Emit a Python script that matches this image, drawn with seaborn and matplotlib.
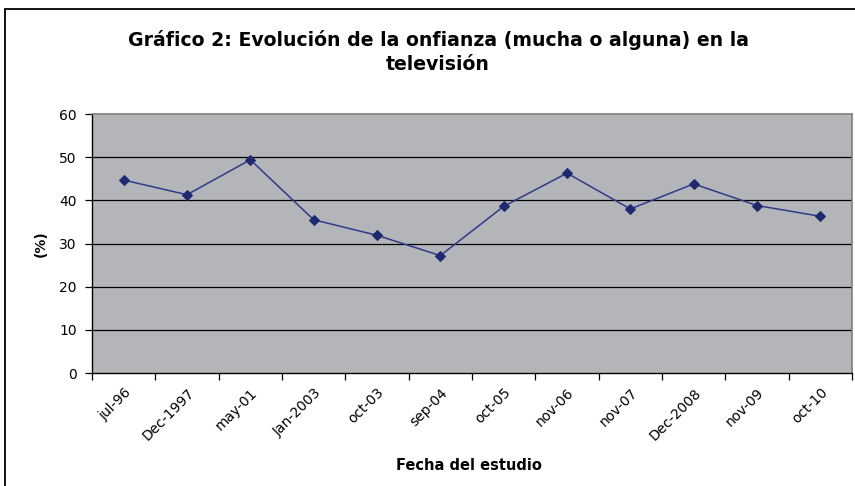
import matplotlib
matplotlib.use("Agg")
import matplotlib.pyplot as plt
import seaborn as sns
import pandas as pd
from matplotlib.patches import Rectangle
from matplotlib.ticker import FixedLocator

categories = ["jul-96", "Dec-1997", "may-01", "Jan-2003", "oct-03", "sep-04",
              "oct-05", "nov-06", "nov-07", "Dec-2008", "nov-09", "oct-10"]
values = [44.7, 41.3, 49.4, 35.5, 31.9, 27.2, 38.6, 46.3, 38.0, 43.8, 38.8, 36.3]
yticks = [0, 10, 20, 30, 40, 50, 60]

sns.set_style("white")
plt.rcParams['font.family'] = ['DejaVu Sans']
plt.rcParams['text.color'] = 'black'
plt.rcParams['axes.labelcolor'] = 'black'
plt.rcParams['xtick.color'] = 'black'
plt.rcParams['ytick.color'] = 'black'

df = pd.DataFrame({"fecha": categories, "valor": values})

fig = plt.figure(figsize=(8.55, 4.86), dpi=100)
ax = fig.add_axes([92/855, 1 - 373/486, (852-92)/855, (373-114)/486])

sns.lineplot(data=df, x="fecha", y="valor", ax=ax, sort=False,
             color="#2E3B8A", linewidth=1.1, marker="D", markersize=5.5,
             markerfacecolor="#1F2A6E", markeredgecolor="#1F2A6E")

ax.set_facecolor("#B4B5B8")
ax.set_xlim(-0.5, len(categories) - 0.5)
ax.set_ylim(0, 60)
ax.set_yticks(yticks)
ax.set_yticklabels([str(t) for t in yticks], fontsize=10)
for t in yticks[1:-1]:
    ax.axhline(t, color="black", linewidth=0.9, zorder=0.5)

ax.set_xticks(range(len(categories)))
ax.set_xticklabels(categories, rotation=45, ha="right", rotation_mode="anchor", fontsize=10)
ax.tick_params(axis="x", which="major", length=0, pad=9)
ax.xaxis.set_minor_locator(FixedLocator([i - 0.5 for i in range(len(categories) + 1)]))
ax.tick_params(axis="x", which="minor", length=5, width=0.9, color="black", direction="out", bottom=True)
ax.tick_params(axis="y", length=5, width=0.9, color="black", direction="out", left=True, pad=6, labelsize=10)

for side in ["top", "right"]:
    ax.spines[side].set_color("#808080")
    ax.spines[side].set_linewidth(1.2)
for side in ["bottom", "left"]:
    ax.spines[side].set_color("black")
    ax.spines[side].set_linewidth(1.0)

ax.set_xlabel("Fecha del estudio", fontsize=10.5, fontweight="bold")
ax.set_ylabel("(%)", fontsize=10, fontweight="bold")
ax.xaxis.set_label_coords(0.496, -0.359)
ax.yaxis.set_label_coords(-0.068, 0.498)
ax.xaxis.label.set_va("center")
ax.yaxis.label.set_va("center")

fig.text(438/855, 1 - 52/486,
         "Gráfico 2: Evolución de la onfianza (mucha o alguna) en la\ntelevisión",
         ha="center", va="center", fontsize=13.6, fontweight="bold", linespacing=1.3)

fig.patches.append(Rectangle((5/855, -0.2), 1.2, 1.2 + (1 - 9/486 - 1.0),
                             transform=fig.transFigure, fill=False,
                             edgecolor="black", linewidth=1.3))

fig.savefig("out.png", dpi=100)
